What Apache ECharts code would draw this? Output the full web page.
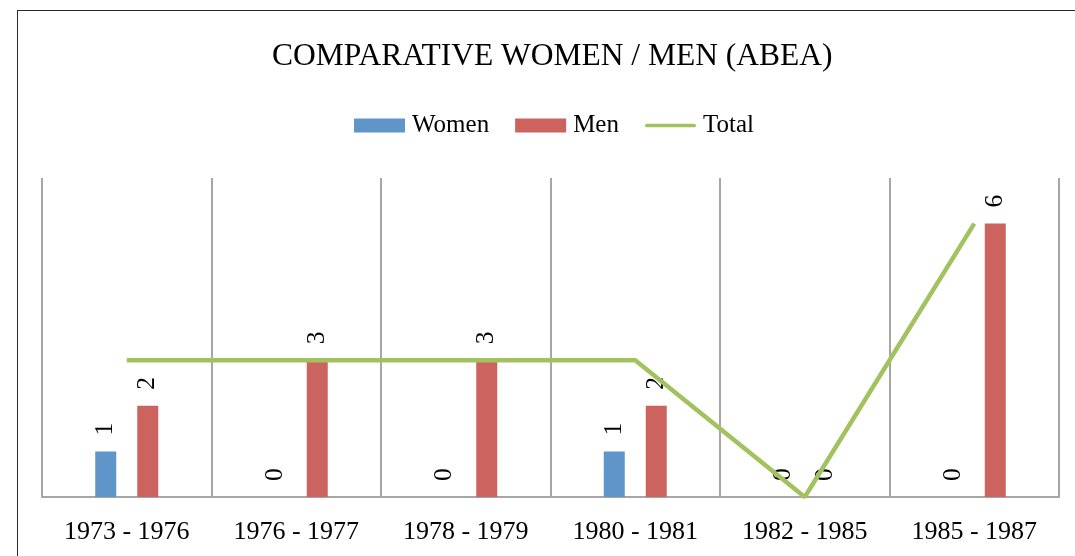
<!DOCTYPE html>
<html>
<head>
<meta charset="utf-8">
<script src="https://cdn.jsdelivr.net/npm/echarts@6/dist/echarts.min.js"></script>
<style>
  html, body { margin: 0; padding: 0; background: #fff; }
  #chart { position: absolute; left: 0; top: 0; width: 1075px; height: 556px; }
  #frame { position: absolute; left: 17px; top: 10px; width: 1100px; height: 600px;
           border: 1.5px solid #2a2a2a; pointer-events: none; box-sizing: border-box; }
</style>
</head>
<body>
<div id="chart"></div>
<div id="frame"></div>
<script>
const categories = ['1973 - 1976', '1976 - 1977', '1978 - 1979', '1980 - 1981', '1982 - 1985', '1985 - 1987'];
const women = [1, 0, 0, 1, 0, 0];
const men = [2, 3, 3, 2, 0, 6];
const total = [3, 3, 3, 3, 0, 6];

const FONT = '"Liberation Serif", "Times New Roman", serif';
const chart = echarts.init(document.getElementById('chart'));
const barLabel = {
  show: true,
  position: 'top',
  rotate: 90,
  align: 'left',
  verticalAlign: 'middle',
  distance: 16,
  fontFamily: FONT,
  fontSize: 25.5,
  color: '#000'
};
chart.setOption({
  animation: false,
  backgroundColor: '#fff',
  title: {
    text: 'COMPARATIVE WOMEN / MEN (ABEA)',
    left: 267,
    top: 36,
    textStyle: { fontFamily: FONT, fontSize: 31.5, fontWeight: 'normal', color: '#000' }
  },
  legend: {
    left: 349,
    top: 108,
    itemWidth: 51,
    itemHeight: 14,
    itemGap: 26,
    textStyle: { fontFamily: FONT, fontSize: 25, color: '#000', padding: [0, 0, 0, 2] },
    data: [
      { name: 'Women', icon: 'rect' },
      { name: 'Men', icon: 'rect' },
      { name: 'Total', icon: 'path://M2,0 L53,0 A2,2 0 0 1 53,4 L2,4 A2,2 0 0 1 2,0 Z' }
    ]
  },
  grid: { left: 42, right: 16, top: 178, bottom: 59, containLabel: false },
  xAxis: {
    type: 'category',
    data: categories,
    boundaryGap: true,
    axisLine: { show: true, lineStyle: { color: '#a6a6a6', width: 2 } },
    axisTick: { show: false },
    axisLabel: { fontFamily: FONT, fontSize: 26, color: '#000', margin: 22, interval: 0 },
    splitLine: { show: true, interval: 0, lineStyle: { color: '#a6a6a6', width: 2 } }
  },
  yAxis: {
    type: 'value',
    min: 0,
    max: 7,
    interval: 1,
    show: false,
    splitLine: { show: false }
  },
  series: [
    {
      name: 'Women', type: 'bar', data: women, barWidth: 21, barGap: '100%',
      itemStyle: { color: '#5f95c9' }, label: barLabel
    },
    {
      name: 'Men', type: 'bar', data: men, barWidth: 21, barGap: '100%',
      itemStyle: { color: '#cd635f' }, label: barLabel
    },
    {
      name: 'Total', type: 'line', data: total, symbol: 'none',
      lineStyle: { color: '#a2c25f', width: 4.5 }, itemStyle: { color: '#a2c25f' }, z: 5
    }
  ]
});
</script>
</body>
</html>
